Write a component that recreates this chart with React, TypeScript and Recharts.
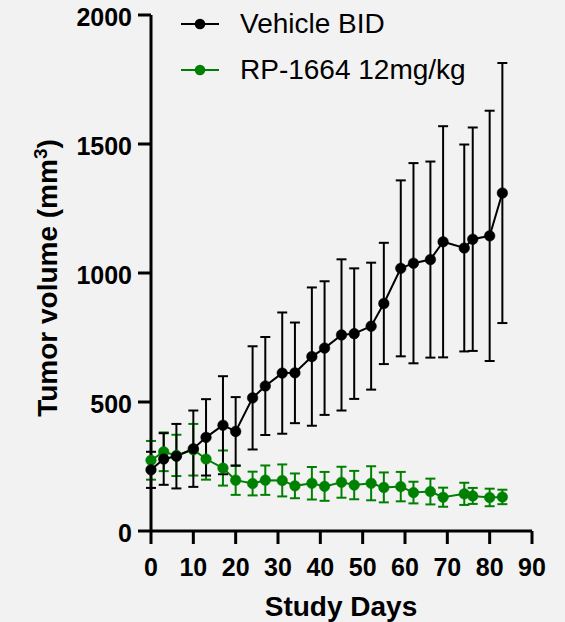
import { LineChart, Line, XAxis, YAxis, ErrorBar, Label } from 'recharts';

const days = [0, 3, 6, 10, 13, 17, 20, 24, 27, 31, 34, 38, 41, 45, 48, 52, 55, 59, 62, 66, 69, 74, 76, 80, 83];
const vehicleMean = [237, 279, 290, 319, 363, 410, 386, 516, 562, 612, 613, 676, 709, 760, 765, 794, 882, 1018, 1038, 1052, 1121, 1097, 1131, 1144, 1310];
const vehicleSd = [70, 100, 125, 148, 148, 190, 133, 200, 190, 235, 195, 268, 259, 293, 253, 246, 235, 341, 388, 380, 448, 401, 433, 485, 504];
const rpMean = [274, 307, 293, 315, 279, 244, 197, 184, 197, 196, 175, 185, 173, 189, 178, 185, 169, 172, 149, 153, 131, 144, 136, 130, 132];
const rpSd = [75, 75, 80, 100, 80, 68, 57, 46, 57, 62, 48, 63, 56, 60, 55, 66, 58, 57, 42, 50, 37, 43, 31, 34, 28];

const xTicks = [0, 10, 20, 30, 40, 50, 60, 70, 80, 90];
const yTicks = [0, 500, 1000, 1500, 2000];

const series = [
  { key: 'vehicle', name: 'Vehicle BID', color: '#000000' },
  { key: 'rp', name: 'RP-1664 12mg/kg', color: '#008000' },
];

const data = days.map((d, i) => ({
  day: d,
  vehicle: vehicleMean[i],
  vehicleErr: vehicleSd[i],
  rp: rpMean[i],
  rpErr: rpSd[i],
}));

const FONT = "'Liberation Sans', Arial, sans-serif";

// legend sits inside the plot, top-left, like the original figure
const LegendBox = () => (
  <div style={{ position: 'absolute', left: 180, top: 1, fontFamily: FONT }}>
    {series.map((s) => (
      <div key={s.key} style={{ display: 'flex', alignItems: 'center', height: 46 }}>
        <svg width={40} height={14}>
          <line x1={1} y1={7} x2={39} y2={7} stroke={s.color} strokeWidth={2} />
          <circle cx={20} cy={7} r={5.3} fill={s.color} />
        </svg>
        <span style={{ marginLeft: 20, fontSize: 28, color: '#000', whiteSpace: 'nowrap' }}>{s.name}</span>
      </div>
    ))}
  </div>
);

const YTitle = () => (
  <text
    transform="translate(57, 278) rotate(-90)"
    textAnchor="middle"
    fontSize={28}
    fontWeight={700}
    fill="#000"
    fontFamily={FONT}
  >
    Tumor volume (mm<tspan baselineShift="super" fontSize={19}>3</tspan>)
  </text>
);

const XTitle = () => (
  <text x={341} y={616} textAnchor="middle" fontSize={28} fontWeight={700} fill="#000" fontFamily={FONT}>
    Study Days
  </text>
);

export default function App() {
  const axisStyle = { stroke: '#000', strokeWidth: 3 };
  const tickStyle = { fontSize: 25, fontWeight: 700, fill: '#000', fontFamily: FONT };
  return (
    <div style={{ position: 'absolute', left: 0, top: 0, width: 565, height: 622, background: '#f2f2f2' }}>
      <LineChart width={565} height={622} data={data} margin={{ top: 15, right: 33, left: 0, bottom: 0 }}>
        <XAxis
          dataKey="day"
          type="number"
          domain={[0, 90]}
          ticks={xTicks}
          height={91}
          axisLine={axisStyle}
          tickLine={axisStyle}
          tickSize={13}
          tickMargin={14}
          tick={tickStyle}
          interval={0}
        >
          <Label content={XTitle} />
        </XAxis>
        <YAxis
          type="number"
          domain={[0, 2000]}
          ticks={yTicks}
          width={151}
          axisLine={axisStyle}
          tickLine={axisStyle}
          tickSize={13}
          tickMargin={6}
          tick={{ ...tickStyle, dy: 2 }}
          interval={0}
        >
          <Label content={YTitle} />
        </YAxis>
        <Line
          dataKey="rp"
          name="RP-1664 12mg/kg"
          stroke="#008000"
          strokeWidth={2}
          dot={{ r: 5.3, fill: '#008000', stroke: '#008000', strokeWidth: 0.5 }}
          isAnimationActive={false}
        >
          <ErrorBar dataKey="rpErr" direction="y" width={5} stroke="#008000" strokeWidth={2} />
        </Line>
        <Line
          dataKey="vehicle"
          name="Vehicle BID"
          stroke="#000"
          strokeWidth={2}
          dot={{ r: 5.3, fill: '#000', stroke: '#000', strokeWidth: 0.5 }}
          isAnimationActive={false}
        >
          <ErrorBar dataKey="vehicleErr" direction="y" width={5} stroke="#000" strokeWidth={2} />
        </Line>
      </LineChart>
      <LegendBox />
    </div>
  );
}
